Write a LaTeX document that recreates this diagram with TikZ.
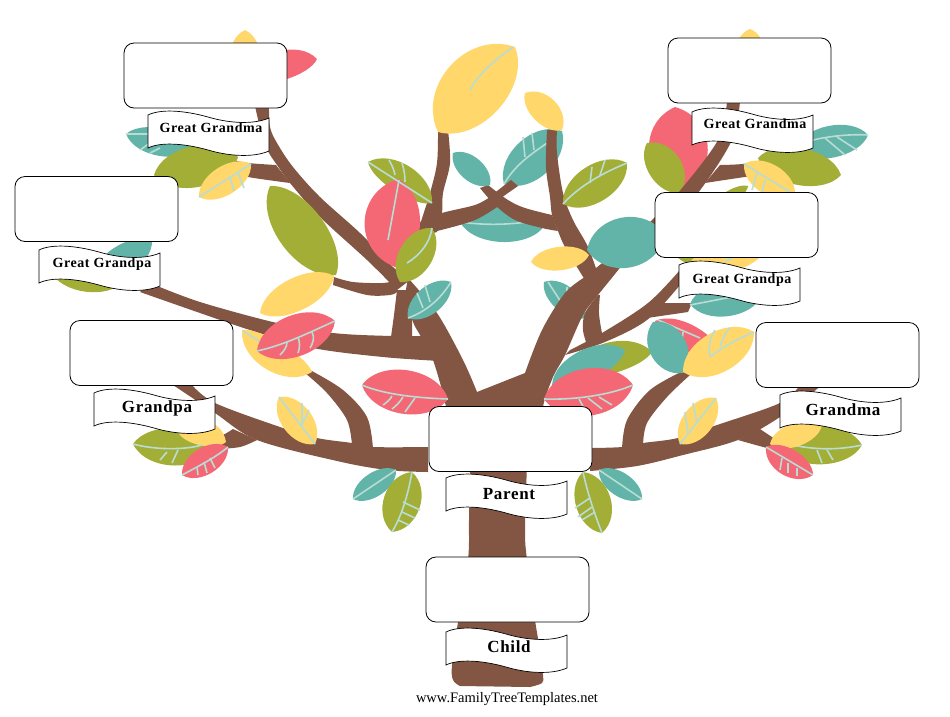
\documentclass[tikz,border=0pt]{standalone}
\usepackage{fontspec}
\setmainfont{Liberation Serif}
\usetikzlibrary{calc}

\definecolor{bark}{HTML}{835543}
\definecolor{tealleaf}{HTML}{62B3A8}
\definecolor{oliveleaf}{HTML}{A3AE37}
\definecolor{pinkleaf}{HTML}{F46876}
\definecolor{yellowleaf}{HTML}{FFD76A}
\definecolor{veincol}{HTML}{B8DDD5}

\newfontfamily\ribbonfont[LetterSpace=4]{Liberation Serif Bold}

% colour, tip, tip, bulge on the left, bulge on the right
\newcommand{\leaf}[5]{\fill[#1] (#2) .. controls ($(#2)!.17!(#3)!#4*1.12pt!90:(#3)$) and ($(#2)!.83!(#3)!#4*1.12pt!90:(#3)$) .. (#3)
  .. controls ($(#2)!.83!(#3)!#5*1.12pt!-90:(#3)$) and ($(#2)!.17!(#3)!#5*1.12pt!-90:(#3)$) .. (#2) -- cycle;}
% one edge, then the other edge coming back
\newcommand{\limb}[2]{\fill[bark] plot[smooth,tension=0.55] coordinates {#1} -- plot[smooth,tension=0.55] coordinates {#2} -- cycle;}
% name, left top corner, text style, text
\newcommand{\ribbon}[5]{\begin{scope}[shift={(#2)}]
  \draw[ribbonline] (0,0) .. controls (12,-6) and (35,-5) .. (60,2) .. controls (80,8) and (105,10) .. (121,3) -- (121,36)
    .. controls (105,43) and (80,41) .. (60,35) .. controls (35,28) and (12,27) .. (0,33) -- cycle;
  \node[#4] (#1) at (63,#3) {#5};
\end{scope}}

\tikzset{
  namebox/.style={draw=black, fill=white, rounded corners=10pt, line width=0.8pt, minimum width=163pt, minimum height=65pt},
  ribbonline/.style={draw=black, fill=white, line width=0.7pt},
  smalltag/.style={inner sep=0pt, font=\ribbonfont\fontsize{14}{16}\selectfont},
  bigtag/.style={inner sep=0pt, font=\ribbonfont\fontsize{17}{20}\selectfont},
  vein/.style={draw=veincol, line width=1.6pt}
}

\begin{document}
\begin{tikzpicture}[x=1pt,y=-1pt]
  \useasboundingbox (0,0) rectangle (950,716);

  % leaves behind the branches
  \leaf{yellowleaf}{245,30}{245,85}{18}{18}
  \leaf{pinkleaf}{317,59}{250,80}{12}{22}
  \leaf{yellowleaf}{750,29}{750,70}{16}{16}
  \leaf{tealleaf}{460,222}{545,225}{20}{22}
  \draw[vein] (460,222) .. controls (490,226) and (510,224) .. (528,222);
  \leaf{tealleaf}{504,184}{562,131}{24}{24}
  \draw[vein] (504,184) .. controls (515,165) and (530,155) .. (547,143);
  \draw[vein] (525,157) -- (523,137);
  \draw[vein] (534,150) -- (532,133);
  \leaf{tealleaf}{544,282}{585,318}{16}{14}
  \draw[vein] (548,282) -- (563,305);
  \draw[vein] (567,287) -- (567,303);
  \leaf{pinkleaf}{675,107}{680,190}{36}{34}
  \leaf{oliveleaf}{647,143}{680,193}{22}{18}
  \leaf{oliveleaf}{710,210}{748,186}{8}{8}

  % trunk and branches
  \limb{(470,465) (469,520) (468,560) (458,622) (452,665) (453,680) (460,686)}{(530,687) (542,683) (543,675) (540,650) (535,620) (527,560) (525,530) (527,465)}
  \limb{(408,278) (437,313) (463,360) (477,392)}{(480,430) (446,430) (446,407) (433,360) (420,335) (413,322) (405,295)}
  \limb{(397,290) (394,315) (391,337)}{(412,337) (412,320) (412,290)}
  \limb{(150,283) (200,302) (277,323) (333,333) (392,336) (440,336)}{(440,361) (383,357) (313,348) (250,330) (200,313) (140,292)}
  \limb{(255,106) (263,140) (269,153) (277,165) (290,183) (320,217) (367,260) (397,290)}{(410,280) (393,267) (360,233) (320,197) (293,167) (277,143) (270,127) (269,106)}
  \limb{(233,160) (248,163) (276,165)}{(290,183) (248,177) (233,172)}
  \limb{(334,277) (353,282) (383,283) (397,280)}{(397,292) (390,295) (367,295) (333,285)}
  \limb{(438,130) (437,163) (430,193) (420,225) (418,237)}{(437,232) (442,213) (443,193) (450,163) (448,130)}
  \limb{(420,222) (442,213) (475,205) (490,197)}{(500,205) (475,220) (437,231) (418,234)}
  \limb{(488,185) (508,200) (525,208) (552,215)}{(558,231) (542,228) (515,220) (495,205) (480,188)}
  \limb{(511,180) (492,195)}{(498,200) (518,186)}
  \limb{(547,130) (546,167) (550,197) (552,215) (558,231) (565,247) (585,280)}{(600,280) (588,247) (573,220) (563,193) (557,153) (557,130)}
  \limb{(585,277) (565,293) (542,330) (525,373)}{(477,392) (477,430) (545,430) (543,407) (553,377) (565,355) (583,315) (598,295) (622,265) (655,220)}
  \limb{(650,222) (678,193) (718,140) (727,101)}{(740,101) (732,140) (698,193) (660,235)}
  \limb{(720,165) (742,164) (762,160)}{(765,175) (745,177) (705,183)}
  \limb{(680,270) (648,303) (602,333) (570,350)}{(565,355) (605,342) (647,320) (680,285)}
  \limb{(663,303) (692,303)}{(688,312) (647,318)}
  \limb{(598,295) (585,313) (583,330) (587,345)}{(605,340) (602,333) (599,313) (600,295)}
  \limb{(428,447) (373,447) (352,443) (317,438) (280,427) (215,403) (192,385)}{(173,385) (215,413) (257,440) (337,461) (387,470) (428,472)}
  \limb{(233,429) (223,435) (210,440)}{(217,449) (240,447) (257,440)}
  \limb{(352,445) (347,420) (327,393) (305,373)}{(310,370) (343,390) (367,417) (373,449)}
  \limb{(592,448) (622,447) (643,443) (678,438) (717,425) (780,403) (800,385)}{(822,385) (780,417) (738,440) (683,455) (637,466) (590,471)}
  \limb{(760,429) (777,440) (790,445)}{(780,450) (767,448) (738,440)}
  \limb{(622,449) (627,420) (650,390) (683,371)}{(690,375) (667,397) (647,423) (643,445)}

  % leaves in front, left side
  \leaf{tealleaf}{126,134}{200,145}{14}{20}
  \draw[vein] (126,134) -- (148,134);
  \draw[vein] (140,150) -- (150,143);
  \draw[vein] (150,153) -- (160,148);
  \leaf{oliveleaf}{154,175}{238,157}{24}{25}
  \leaf{yellowleaf}{199,197}{251,164}{17}{17}
  \draw[vein] (199,197) -- (251,164);
  \draw[vein] (230,177) -- (234,191);
  \draw[vein] (238,173) -- (244,188);
  \leaf{tealleaf}{152,240}{95,272}{20}{14}
  \leaf{oliveleaf}{50,270}{125,280}{10}{20}
  \leaf{oliveleaf}{270,186}{336,275}{26}{30}
  \leaf{yellowleaf}{260,313}{334,276}{20}{19}
  \leaf{yellowleaf}{242,330}{312,372}{10}{25}
  \draw[vein] (243,331) -- (262,343);
  \leaf{pinkleaf}{257,351}{335,321}{25}{24}
  \draw[vein] (257,351) .. controls (285,345) and (310,332) .. (335,321);
  \draw[vein] (312,332) .. controls (315,338) and (313,343) .. (310,348);
  \draw[vein] (298,337) .. controls (300,342) and (300,348) .. (298,353);
  \draw[vein] (287,342) .. controls (287,347) and (284,351) .. (280,355);
  \leaf{yellowleaf}{279,397}{315,444}{18}{18}
  \draw[vein] (279,397) -- (315,444);
  \draw[vein] (302,403) -- (302,425);
  \draw[vein] (309,410) -- (302,425);
  \leaf{pinkleaf}{362,385}{448,399}{26}{26}
  \draw[vein] (362,385) .. controls (385,395) and (420,398) .. (448,399);
  \draw[vein] (415,398) -- (405,412);
  \draw[vein] (403,397) .. controls (400,402) and (396,406) .. (392,409);
  \draw[vein] (392,396) .. controls (390,400) and (386,403) .. (383,405);
  \leaf{tealleaf}{353,499}{396,470}{14}{14}
  \draw[vein] (353,499) -- (396,470);
  \leaf{oliveleaf}{392,532}{412,472}{22}{22}
  \draw[vein] (392,532) .. controls (402,515) and (408,495) .. (412,472);
  \draw[vein] (403,502) -- (420,510);
  \draw[vein] (402,512) -- (415,518);
  \draw[vein] (398,520) -- (409,525);
  \leaf{oliveleaf}{133,444}{217,445}{20}{25}
  \leaf{yellowleaf}{178,432}{226,442}{20}{10}
  \draw[vein] (133,444) .. controls (155,450) and (185,450) .. (202,445);
  \draw[vein] (178,450) -- (172,463);
  \draw[vein] (167,452) -- (160,460);
  \leaf{pinkleaf}{182,475}{228,447}{16}{16}
  \draw[vein] (182,475) .. controls (197,467) and (215,458) .. (228,447);
  \draw[vein] (215,468) -- (210,458);
  \draw[vein] (207,473) -- (204,462);
  \draw[vein] (198,475) -- (197,467);

  % leaves in front, middle
  \leaf{oliveleaf}{368,162}{432,203}{22}{12}
  \leaf{pinkleaf}{398,179}{395,267}{28}{38}
  \draw[vein] (399,180) -- (388,240);
  \draw[vein] (368,162) -- (432,203);
  \draw[vein] (395,175) .. controls (394,170) and (392,165) .. (389,160);
  \draw[vein] (405,182) .. controls (405,175) and (404,169) .. (402,163);
  \leaf{oliveleaf}{432,228}{400,282}{20}{20}
  \draw[vein] (432,228) .. controls (430,243) and (420,255) .. (407,263);
  \leaf{tealleaf}{408,318}{451,282}{16}{16}
  \draw[vein] (408,318) .. controls (425,312) and (440,300) .. (451,282);
  \draw[vein] (423,308) -- (417,293);
  \draw[vein] (430,302) -- (425,285);
  \leaf{yellowleaf}{438,132}{515,47}{42}{35}
  \draw[vein] (513,47) .. controls (495,60) and (480,72) .. (470,90);
  \leaf{tealleaf}{453,153}{490,185}{14}{14}
  \leaf{yellowleaf}{525,93}{562,130}{18}{14}
  \leaf{oliveleaf}{563,204}{627,163}{22}{22}
  \draw[vein] (563,204) .. controls (580,185) and (605,172) .. (627,163);
  \draw[vein] (590,183) -- (592,167);
  \draw[vein] (600,175) -- (605,160);
  \leaf{tealleaf}{587,250}{665,235}{30}{30}
  \leaf{yellowleaf}{531,262}{589,255}{14}{14}

  % leaves in front, right side
  \leaf{oliveleaf}{570,375}{652,352}{25}{12}
  \leaf{tealleaf}{552,385}{625,350}{22}{15}
  \leaf{pinkleaf}{544,399}{633,385}{28}{28}
  \draw[vein] (544,399) .. controls (575,400) and (610,395) .. (633,385);
  \draw[vein] (599,397) -- (612,405);
  \draw[vein] (588,398) -- (602,409);
  \draw[vein] (579,399) -- (585,410);
  \leaf{pinkleaf}{655,321}{725,365}{20}{10}
  \draw[vein] (658,320) -- (700,338);
  \draw[vein] (683,332) -- (682,342);
  \leaf{tealleaf}{653,322}{683,373}{22}{22}
  \leaf{yellowleaf}{683,372}{754,332}{24}{24}
  \draw[vein] (710,357) .. controls (725,345) and (740,338) .. (754,332);
  \draw[vein] (710,357) .. controls (708,347) and (710,338) .. (715,330);
  \draw[vein] (720,347) .. controls (722,340) and (725,333) .. (730,328);
  \leaf{tealleaf}{795,150}{868,135}{20}{18}
  \draw[vein] (813,140) .. controls (830,136) and (850,134) .. (868,135);
  \draw[vein] (825,138) -- (845,155);
  \draw[vein] (837,137) -- (857,150);
  \leaf{oliveleaf}{758,158}{841,175}{22}{22}
  \leaf{yellowleaf}{744,164}{795,195}{18}{18}
  \draw[vein] (744,164) -- (790,192);
  \draw[vein] (757,173) -- (752,190);
  \draw[vein] (765,180) -- (762,193);
  \leaf{oliveleaf}{672,250}{720,266}{10}{10}
  \leaf{yellowleaf}{690,262}{775,228}{8}{30}
  \draw[vein] (725,262) -- (733,257);
  \leaf{tealleaf}{690,304}{762,295}{20}{20}
  \draw[vein] (690,305) -- (732,297);
  \leaf{yellowleaf}{680,444}{716,398}{18}{18}
  \draw[vein] (680,444) -- (716,398);
  \draw[vein] (693,403) -- (697,423);
  \draw[vein] (685,412) -- (688,433);
  \leaf{oliveleaf}{583,472}{602,533}{22}{20}
  \draw[vein] (583,472) .. controls (588,495) and (595,515) .. (602,533);
  \draw[vein] (590,498) -- (575,508);
  \draw[vein] (592,507) -- (578,517);
  \draw[vein] (595,512) -- (582,520);
  \leaf{tealleaf}{599,470}{642,499}{14}{14}
  \draw[vein] (599,470) -- (642,499);
  \leaf{oliveleaf}{777,445}{862,445}{23}{23}
  \draw[vein] (793,445) .. controls (815,450) and (840,450) .. (862,445);
  \draw[vein] (817,450) -- (822,463);
  \draw[vein] (827,450) -- (833,460);
  \leaf{yellowleaf}{770,444}{822,425}{14}{14}
  \leaf{pinkleaf}{766,447}{813,475}{14}{18}
  \draw[vein] (766,447) -- (813,475);
  \draw[vein] (782,458) -- (780,470);
  \draw[vein] (788,463) -- (788,473);
  \draw[vein] (797,468) -- (797,476);

  % name boxes
  \node[namebox] (greatgrandmaL) at (205.5,75.5) {};
  \node[namebox] (greatgrandpaL) at (96.5,209) {};
  \node[namebox] (grandpa) at (151.5,353) {};
  \node[namebox] (greatgrandmaR) at (749.5,70.5) {};
  \node[namebox] (greatgrandpaR) at (736.5,225) {};
  \node[namebox] (grandma) at (837.5,355) {};
  \node[namebox] (parent) at (510.5,439) {};
  \node[namebox] (child) at (507.5,589.5) {};

  % ribbons
  \ribbon{tagGreatGrandmaL}{148,115}{13}{smalltag}{Great Grandma}
  \ribbon{tagGreatGrandpaL}{39,250}{14}{smalltag}{Great Grandpa}
  \ribbon{tagGrandpa}{94,393}{15}{bigtag}{Grandpa}
  \ribbon{tagGreatGrandmaR}{692,112}{12}{smalltag}{Great Grandma}
  \ribbon{tagGreatGrandpaR}{679,265}{15}{smalltag}{Great Grandpa}
  \ribbon{tagGrandma}{780,395}{15}{bigtag}{Grandma}
  \ribbon{tagParent}{446,478}{16}{bigtag}{Parent}
  \ribbon{tagChild}{446,632}{15}{bigtag}{Child}

  \node[inner sep=0pt, font=\fontsize{14.5}{16}\selectfont] (site) at (507,699) {www.FamilyTreeTemplates.net};
\end{tikzpicture}
\end{document}
